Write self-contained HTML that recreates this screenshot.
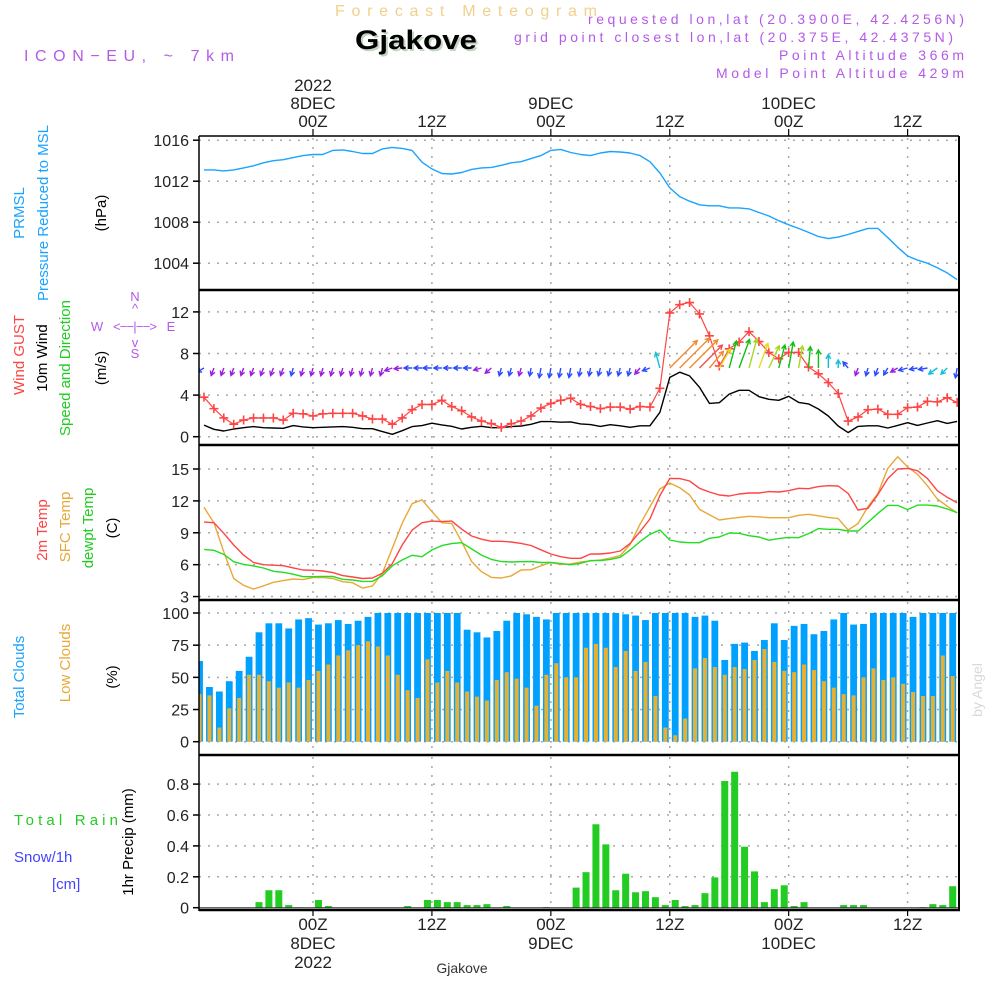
<!DOCTYPE html>
<html><head><meta charset="utf-8"><title>Forecast Meteogram Gjakove</title>
<style>
html,body{margin:0;padding:0;background:#fff;}
svg{display:block;}
text{font-family:"Liberation Sans",sans-serif;}
</style></head>
<body>
<svg id="chart" width="1000" height="1000" viewBox="0 0 1000 1000" xmlns="http://www.w3.org/2000/svg">
<rect x="0" y="0" width="1000" height="1000" fill="#fff"/>
<!-- Header -->
<text x="335" y="16" font-size="16" fill="#f3cf8c" textLength="262" lengthAdjust="spacing">Forecast Meteogram</text>
<text x="357" y="51" font-size="27" font-weight="bold" font-family="Liberation Serif, serif" fill="#c4d4c4" textLength="122" lengthAdjust="spacingAndGlyphs">Gjakove</text>
<text x="355" y="49" font-size="27" font-weight="bold" font-family="Liberation Serif, serif" fill="#000" textLength="122" lengthAdjust="spacingAndGlyphs">Gjakove</text>
<text x="24" y="61" font-size="16" fill="#b45ae6" textLength="210" lengthAdjust="spacing">ICON−EU, ~ 7km</text>
<text x="964" y="24" font-size="14" fill="#b45ae6" text-anchor="end" textLength="376" lengthAdjust="spacing">requested lon,lat (20.3900E, 42.4256N)</text>
<text x="953" y="42" font-size="14" fill="#b45ae6" text-anchor="end" textLength="439" lengthAdjust="spacing">grid point closest lon,lat (20.375E, 42.4375N)</text>
<text x="964" y="60" font-size="14" fill="#b45ae6" text-anchor="end" textLength="185" lengthAdjust="spacing">Point Altitude 366m</text>
<text x="964" y="78" font-size="14" fill="#b45ae6" text-anchor="end" textLength="248" lengthAdjust="spacing">Model Point Altitude 429m</text>

<!-- left rotated labels -->
<g font-size="15">
<text transform="translate(24,213) rotate(-90)" text-anchor="middle" fill="#1aa3ff">PRMSL</text>
<text transform="translate(48,213) rotate(-90)" text-anchor="middle" fill="#1aa3ff">Pressure Reduced to MSL</text>
<text transform="translate(106,213) rotate(-90)" text-anchor="middle" fill="#000">(hPa)</text>
</g>
<g font-size="15">
<text transform="translate(24,355) rotate(-90)" text-anchor="middle" fill="#ff4444">Wind GUST</text>
<text transform="translate(47,358) rotate(-90)" text-anchor="middle" fill="#000">10m Wind</text>
<text transform="translate(70,368) rotate(-90)" text-anchor="middle" fill="#22cc22">Speed and Direction</text>
<text transform="translate(106,368) rotate(-90)" text-anchor="middle" fill="#000">(m/s)</text>
<g fill="#b45ae6" font-size="13">
<text x="135" y="301" text-anchor="middle">N</text>
<text x="135" y="313" text-anchor="middle">^</text>
<text x="97" y="331" text-anchor="middle">W</text>
<text x="135" y="331" text-anchor="middle" textLength="44" lengthAdjust="spacing">&lt;−−|−−&gt;</text>
<text x="171" y="331" text-anchor="middle">E</text>
<text x="135" y="347" text-anchor="middle">v</text>
<text x="135" y="358" text-anchor="middle">S</text>
</g>
</g>
<g font-size="15">
<text transform="translate(47,530) rotate(-90)" text-anchor="middle" fill="#ff4444">2m Temp</text>
<text transform="translate(70,527) rotate(-90)" text-anchor="middle" fill="#e8a838">SFC Temp</text>
<text transform="translate(93,528) rotate(-90)" text-anchor="middle" fill="#22cc22">dewpt Temp</text>
<text transform="translate(117,528) rotate(-90)" text-anchor="middle" fill="#000">(C)</text>
</g>
<g font-size="15">
<text transform="translate(24,677) rotate(-90)" text-anchor="middle" fill="#1aa3ff">Total Clouds</text>
<text transform="translate(70,663) rotate(-90)" text-anchor="middle" fill="#e8a838">Low Clouds</text>
<text transform="translate(117,677) rotate(-90)" text-anchor="middle" fill="#000">(%)</text>
</g>
<g font-size="15">
<text x="14" y="825" fill="#22cc22" textLength="104" lengthAdjust="spacing">Total  Rain</text>
<text x="14" y="862" fill="#4444ff">Snow/1h</text>
<text x="52" y="889" fill="#4444ff">[cm]</text>
<text transform="translate(133,842) rotate(-90)" text-anchor="middle" fill="#000">1hr Precip (mm)</text>
</g>
<text transform="translate(982,690) rotate(-90)" text-anchor="middle" font-size="14" fill="#d8d8d8" font-family="Liberation Serif, serif">by Angel</text>
<text x="462" y="973" font-size="14" fill="#333" text-anchor="middle" font-family="Liberation Mono, monospace">Gjakove</text>
<g id="plot"></g>
</svg>
<script>
// ---- data (hourly, hours relative to 00Z 8 DEC) ----
const hours = [];
for (let h = -11; h <= 65; h++) hours.push(h);
const pressure = [1013.1,1013.1,1013.0,1013.1,1013.3,1013.5,1013.8,1014.0,1014.1,1014.3,
1014.5,1014.6,1014.6,1015.0,1015.05,1014.9,1014.7,1014.7,1015.15,1015.3,
1015.2,1015.0,1013.85,1013.2,1012.75,1012.7,1012.85,1013.15,1013.3,1013.35,
1013.55,1013.8,1013.9,1014.2,1014.5,1015.0,1015.1,1014.8,1014.6,1014.5,
1014.75,1014.9,1014.85,1014.75,1014.5,1013.9,1012.8,1011.35,1010.5,1010.05,
1009.7,1009.6,1009.6,1009.4,1009.4,1009.3,1008.95,1008.6,1008.15,1007.75,
1007.4,1007.0,1006.6,1006.4,1006.55,1006.8,1007.1,1007.4,1007.4,1006.5,
1005.55,1004.7,1004.3,1004.0,1003.55,1003.05,1002.4];
const gust = [3.8,2.7,1.8,1.2,1.6,1.8,1.8,1.8,1.6,2.25,
2.2,2.0,2.2,2.25,2.25,2.25,2.0,1.7,1.7,1.2,
1.8,2.6,3.1,3.1,3.5,2.9,2.5,1.9,1.5,1.25,
0.9,1.25,1.5,2.0,2.75,3.2,3.5,3.7,3.1,2.9,
2.7,2.85,2.85,2.65,2.9,2.85,4.65,11.9,12.7,12.9,
11.8,9.7,6.8,8.45,9.1,10.1,9.15,8.1,7.5,8.1,
8.1,6.7,6.05,5.2,4.15,1.5,1.9,2.6,2.65,2.15,
2.15,2.8,2.85,3.4,3.35,3.75,3.3];
const wind10 = [1.12,0.71,0.55,0.74,0.87,0.97,0.87,0.84,0.81,1.07,
0.94,0.87,0.9,0.94,0.97,0.9,0.77,0.77,0.49,0.23,
0.58,0.97,1.07,1.3,1.13,1.0,0.74,0.9,1.0,0.87,
0.87,0.97,1.03,1.19,1.45,1.45,1.39,1.42,1.23,1.16,
0.99,1.15,1.05,0.9,1.05,1.05,2.35,5.7,6.2,5.85,
4.75,3.2,3.27,4.1,4.46,4.46,3.85,3.6,3.5,3.88,
3.3,3.15,2.66,1.99,1.03,0.39,0.99,1.05,1.05,0.84,
1.09,1.35,1.09,1.32,1.54,1.28,1.47];
const windDir = [240,200,200,200,200,200,200,200,200,195,
195,195,195,195,195,195,195,195,195,250,
265,270,270,270,270,270,270,270,255,230,
195,195,195,190,190,190,190,190,190,190,
195,195,195,195,220,250,345,45,45,45,
45,40,30,15,20,15,20,25,15,10,
10,5,0,0,0,320,200,195,200,210,
240,255,260,260,235,225,190];
const windClass = [1,0,0,0,0,0,0,0,0,1,
0,0,0,0,0,0,0,0,0,0,
0,1,1,1,1,1,1,1,0,0,
1,1,0,1,1,1,1,1,1,1,
1,1,1,1,0,1,2,6,6,6,
7,6,5,3,3,4,5,4,3,3,
4,3,3,2,2,1,0,1,1,1,
0,1,1,1,2,2,1];
const temp2m = [10.0,9.95,8.95,7.85,6.9,6.2,6.0,5.95,5.9,5.7,
5.5,5.47,5.4,5.25,4.97,4.84,4.7,4.75,5.2,6.1,
7.85,9.25,9.95,10.1,10.05,10.1,9.35,8.7,8.4,8.2,
8.2,8.13,8.0,7.8,7.4,7.0,6.75,6.6,6.6,7.0,
7.0,7.1,7.29,8.0,9.1,10.3,12.5,14.12,14.1,13.87,
13.18,12.84,12.55,12.46,12.65,12.74,12.74,12.87,12.84,12.96,
13.18,13.15,13.34,13.43,13.4,12.7,11.14,11.3,12.6,14.1,
15.0,15.06,14.84,14.12,12.96,12.34,11.83];
const sfcTemp = [11.4,9.95,7.2,4.7,4.06,3.7,4.0,4.34,4.5,4.65,
4.6,4.78,4.8,4.7,4.4,4.3,3.8,4.0,5.2,7.54,
9.9,11.74,12.1,11.0,9.95,9.86,8.17,6.3,5.34,4.8,
4.75,4.94,5.5,5.53,5.88,6.2,6.03,6.07,6.25,6.35,
6.44,6.63,6.85,7.9,9.8,11.43,13.12,13.68,13.24,12.55,
11.2,10.7,10.2,10.33,10.45,10.55,10.49,10.42,10.42,10.42,
10.64,10.74,10.6,10.45,10.33,9.26,9.86,11.46,12.7,15.06,
16.16,15.2,14.5,13.43,12.18,11.5,10.86];
const dewpt = [7.44,7.35,6.97,6.28,6.03,5.88,5.69,5.38,5.28,5.1,
4.87,4.87,4.9,4.9,4.62,4.56,4.43,4.43,4.97,5.9,
6.44,6.88,6.75,7.38,7.79,7.98,8.07,7.48,6.9,6.5,
6.3,6.25,6.28,6.3,6.2,6.2,6.1,6.0,6.13,6.38,
6.38,6.5,6.69,7.38,8.17,8.86,9.26,8.32,8.13,8.07,
8.07,8.48,8.6,8.98,8.95,8.73,8.6,8.3,8.45,8.57,
8.54,8.92,9.39,9.33,9.33,9.17,9.17,9.98,10.83,11.58,
11.58,11.18,11.6,11.6,11.52,11.24,10.9];
const totalClouds = [62.7,42.5,39,47,55,66,85,92,92,88,
95,96,91,92,94.5,91.5,94,97,100,100,
100,100,100,100,100,100,100,87,85,81,
86,94,100,99,97,95,100,100,100,100,
100,100,100,99,98,94.5,100,100,100,100,
97,98,94,63.5,76,77,70.5,79,92,79,
90,91.5,83.5,86,95,100,91,91.5,100,100,
100,100,97,100,100,100,100];
const lowClouds = [37,36,11,26,34,52,52,47,42,46,
42,48,55,60,67,71,75,78,74,67,
52,40,34,64,46,55,46,39,35,32,
48,54,49,42,28,52,61,50,50,73,
76,73,58,70.5,55,62,35.5,11,5,18,
57,65,58,52,58,56.5,63.5,72,62,55,
54,60,55.7,47,42,37,36,50,57,48,
50,45,38.6,35.5,35.5,67,51];
const precip = [0,0,0,0,0,0,0.036,0.113,0.113,0.017,
0.002,0,0.05,0.011,0,0,0,0,0,0,
0,0.011,0,0.05,0.05,0.036,0.036,0.017,0.017,0.023,
0,0.011,0,0,0,0.004,0,0,0.13,0.23,
0.54,0.41,0.113,0.22,0.10,0.107,0.068,0.017,0.05,0.011,
0.017,0.094,0.196,0.82,0.88,0.395,0.235,0.036,0.12,0.145,
0.011,0.036,0,0,0,0.017,0.017,0.017,0,0,
0,0,0,0.004,0.023,0.017,0.139];
const timeTicks = [0,12,24,36,48,60];
const timeTopLabels = [["2022","8DEC","00Z"],["12Z"],["9DEC","00Z"],["12Z"],["10DEC","00Z"],["12Z"]];
const timeBottomLabels = [["00Z","8DEC","2022"],["12Z"],["00Z","9DEC"],["12Z"],["00Z","10DEC"],["12Z"]];
const pressureTicks = [1016,1012,1008,1004];
const windTicks = [12,8,4,0];
const tempTicks = [15,12,9,6,3];
const cloudTicks = [100,75,50,25,0];
const precipTicks = [0.8,0.6,0.4,0.2,0];
const precipTickLabels = ["0.8","0.6","0.4","0.2","0"];

// ---- scales ----
const PL = 199, PR = 959;
const xT = t => 313 + 9.91 * t;
const BAR_SHIFT = -0.45;
const yP = v => 140.2 + (1016 - v) * 10.25;
const yW = v => 436.7 - v * 10.4;
const yT = v => 469 + (15 - v) * 10.63;
const yC = v => 741.7 - v * 1.287;
const yR = v => 907.7 - v * 154.5;
const panels = [
  {name:'pressure', top:136, bot:290, y:yP, ticks:pressureTicks, labels:pressureTicks.map(String)},
  {name:'wind', top:290, bot:445, y:yW, ticks:windTicks, labels:windTicks.map(String)},
  {name:'temperature', top:445, bot:600, y:yT, ticks:tempTicks, labels:tempTicks.map(String)},
  {name:'clouds', top:600, bot:755, y:yC, ticks:cloudTicks, labels:cloudTicks.map(String)},
  {name:'precip', top:755, bot:910, y:yR, ticks:precipTicks, labels:precipTickLabels}
];
const windPalette = ['#9a1de0','#2a4bff','#10c0d8','#10c010','#a8d820','#dede20','#f08a30','#f05050'];

const NS = 'http://www.w3.org/2000/svg';
const plot = document.getElementById('plot');
function mk(tag, attrs, parent) {
  const e = document.createElementNS(NS, tag);
  for (const k in attrs) e.setAttribute(k, attrs[k]);
  (parent || plot).appendChild(e);
  return e;
}

const defs = mk('defs', {});
const cp = mk('clipPath', {id:'plotclip'}, defs);
mk('rect', {x:PL, y:136, width:PR-PL, height:774}, cp);

panels.forEach(p => {
  const g = mk('g', {});
  
  
  p.ticks.forEach((v, i) => {
    const y = p.y(v);
    if (y > p.top + 3 && y < p.bot - 3) {
      const gl = mk('line', {x1:PL, x2:PR, y1:y, y2:y, stroke:'#a8a8a8', 'stroke-width':1.5, 'stroke-dasharray':'2 7'}, g);
      
      
    }
    const tk = mk('line', {x1:PL-6, x2:PL, y1:y, y2:y, stroke:'#000', 'stroke-width':1.5}, g);
    
    
    const tl = mk('text', {x:PL-10, y:y+6, 'text-anchor':'end', 'font-size':16, fill:'#222'}, g);
    tl.textContent = p.labels[i];
    
    
  });
  timeTicks.forEach(t => {
    const vl = mk('line', {x1:xT(t), x2:xT(t), y1:p.top+2, y2:p.bot-2, stroke:'#a8a8a8', 'stroke-width':1.5, 'stroke-dasharray':'2 7'}, g);
    
    
  });
});

timeTicks.forEach((t, i) => {
  const x = xT(t);
  const tt = mk('line', {x1:x, x2:x, y1:129, y2:136, stroke:'#000', 'stroke-width':1.2});
  
  
  const top = timeTopLabels[i];
  top.forEach((s, j) => {
    const tx = mk('text', {x:x, y:127 - (top.length - 1 - j) * 18, 'text-anchor':'middle', 'font-size':17, fill:'#222'});
    tx.textContent = s;
    
    
  });
  const bt = mk('line', {x1:x, x2:x, y1:910, y2:916, stroke:'#000', 'stroke-width':1.2});
  
  
  timeBottomLabels[i].forEach((s, j) => {
    const tx = mk('text', {x:x, y:930 + j * 19, 'text-anchor':'middle', 'font-size':17, fill:'#222'});
    tx.textContent = s;
    
    
  });
});

const data = mk('g', {'clip-path':'url(#plotclip)'});



function line(arr, yf, color, name, w) {
  const pts = arr.map((v, i) => xT(hours[i]).toFixed(1) + ',' + yf(v).toFixed(1)).join(' ');
  const pl = mk('polyline', {points:pts, fill:'none', stroke:color, 'stroke-width':w || 1.4, 'stroke-linejoin':'round'}, data);
  
  
}

totalClouds.forEach((v, i) => {
  const x = xT(hours[i] + BAR_SHIFT);
  const r = mk('rect', {x:x-3.4, y:yC(v), width:6.8, height:yC(0)-yC(v), fill:'#00a0ff'}, data);
  
  
});
lowClouds.forEach((v, i) => {
  const x = xT(hours[i] + BAR_SHIFT);
  const r = mk('rect', {x:x-2, y:yC(v), width:4, height:yC(0)-yC(v), fill:'#e8b030'}, data);
  
  
});
precip.forEach((v, i) => {
  if (v <= 0) return;
  const x = xT(hours[i] + BAR_SHIFT);
  const r = mk('rect', {x:x-3.5, y:yR(v), width:7, height:yR(0)-yR(v), fill:'#22cc22'}, data);
  
  
});
const pb = mk('line', {x1:PL, x2:PR, y1:yR(0), y2:yR(0), stroke:'#333', 'stroke-width':1}, data);



line(pressure, yP, '#1aa3ff', 'pressure-line');
line(wind10, yW, '#000', 'wind-10m-line');
line(gust, yW, '#ff4444', 'wind-gust-line', 1.2);
gust.forEach((v, i) => {
  const x = xT(hours[i]), y = yW(v);
  const m = mk('path', {d:`M${x-4.5},${y}H${x+4.5}M${x},${y-4.5}V${y+4.5}`, stroke:'#ff4444', 'stroke-width':1.6, fill:'none'}, data);
  
  
});
windDir.forEach((d, i) => {
  const x0 = xT(hours[i]), y0 = 368;
  const len = Math.max(8, 6.8 * wind10[i]);
  const a = d * Math.PI / 180;
  const x1 = x0 + len * Math.sin(a), y1 = y0 - len * Math.cos(a);
  const hl = 5, ha = 0.5;
  const bx = x1 - x0, by = y1 - y0, L = Math.hypot(bx, by);
  const ux = bx / L, uy = by / L;
  const l1x = x1 - hl * (ux * Math.cos(ha) - uy * Math.sin(ha));
  const l1y = y1 - hl * (uy * Math.cos(ha) + ux * Math.sin(ha));
  const l2x = x1 - hl * (ux * Math.cos(-ha) - uy * Math.sin(-ha));
  const l2y = y1 - hl * (uy * Math.cos(-ha) + ux * Math.sin(-ha));
  const ar = mk('path', {d:`M${x0},${y0}L${x1},${y1}M${l1x},${l1y}L${x1},${y1}L${l2x},${l2y}`, stroke:windPalette[windClass[i]], 'stroke-width':1.4, fill:'none'}, data);
  
  
});
line(sfcTemp, yT, '#e8a838', 'sfc-temp-line');
line(dewpt, yT, '#22dd22', 'dewpt-temp-line');
line(temp2m, yT, '#ff4444', 'temp-2m-line');

const fr = mk('g', {});


mk('line', {x1:PL, x2:PR, y1:136, y2:136, stroke:'#000', 'stroke-width':1.5}, fr);
[290, 445, 600, 755, 910].forEach(y => {
  const l = mk('line', {x1:PL, x2:PR+1, y1:y, y2:y, stroke:'#000', 'stroke-width':2.5}, fr);
  
  
});
mk('line', {x1:PL, x2:PL, y1:136, y2:911, stroke:'#000', 'stroke-width':1.5}, fr);
mk('line', {x1:PR, x2:PR, y1:136, y2:911, stroke:'#000', 'stroke-width':2}, fr);
</script>
</body></html>
